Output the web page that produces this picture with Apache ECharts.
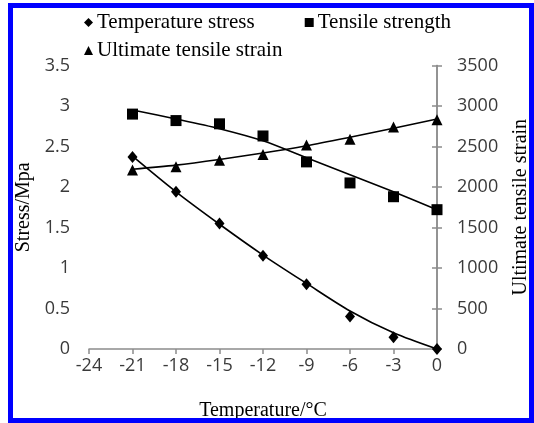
<!DOCTYPE html>
<html>
<head>
<meta charset="utf-8">
<script src="https://cdn.jsdelivr.net/npm/echarts@6/dist/echarts.min.js"></script>
<style>
  html, body { margin: 0; padding: 0; background: #fff; }
  #chart { width: 534px; height: 423px; }
</style>
</head>
<body>
<div id="chart"></div>
<script>
// temperature (degC) of each test
var temps = [-21, -18, -15, -12, -9, -6, -3, 0];

var stressVals = [2.37, 1.94, 1.55, 1.15, 0.80, 0.40, 0.145, 0];
var strengthVals = [2.90, 2.82, 2.78, 2.63, 2.31, 2.05, 1.88, 1.72];
var strainVals = [2210, 2250, 2330, 2400, 2520, 2590, 2740, 2830];

// trend curves as drawn in the figure
var stressTrend = [2.38, 1.94, 1.54, 1.16, 0.81, 0.47, 0.20, 0];
var strengthTrend = [2.95, 2.84, 2.72, 2.57, 2.36, 2.15, 1.94, 1.72];
var strainTrend = [2220, 2270, 2340, 2420, 2510, 2615, 2725, 2840];

var serifFont = '"Liberation Serif", "Times New Roman", serif';
var tickFont = '"Open Sans", "Liberation Sans", sans-serif';

var pairs = function(xs, ys){
    var out = [];
    for (var i = 0; i < xs.length; i++) {
        out.push([xs[i], ys[i]]);
    }
    return out;
};

var axisLineStyle = { lineStyle: { color: '#8c8c8c', width: 1.5 } };
var tickStyle = { show: true, inside: false, length: 5, lineStyle: { color: '#8c8c8c', width: 1.5 } };
var labelStyle = { fontFamily: tickFont, fontSize: 18, color: '#3a3a3a' };

var myChart = echarts.init(document.getElementById('chart'));

var trendLine = function(name, data, yIndex){
    return {
        name: name,
        type: 'line',
        yAxisIndex: yIndex,
        data: pairs(temps, data),
        smooth: 0.3,
        showSymbol: false,
        silent: true,
        z: 2,
        lineStyle: { color: '#000', width: 1.6 }
    };
};

var points = function(name, data, yIndex, symbol, size){
    return {
        name: name,
        type: 'scatter',
        yAxisIndex: yIndex,
        data: pairs(temps, data),
        symbol: symbol,
        symbolSize: size,
        z: 5,
        itemStyle: { color: '#000', opacity: 1 }
    };
};

var legendText = { fontFamily: serifFont, fontSize: 21, color: '#000', padding: [0, 0, 0, -1] };

var option = {
    animation: false,
    backgroundColor: '#fff',
    graphic: [{
        type: 'rect',
        shape: { x: 10.5, y: 5.5, width: 521, height: 415 },
        style: { fill: 'none', stroke: '#0000ff', lineWidth: 5 },
        z: 100
    }],
    legend: [{
        data: ['Temperature stress', 'Tensile strength'],
        left: 79,
        top: 7,
        itemGap: 50,
        itemWidth: 9,
        itemHeight: 9,
        itemStyle: { color: '#000', opacity: 1 },
        textStyle: legendText
    }, {
        data: ['Ultimate tensile strain'],
        left: 79,
        top: 35,
        itemWidth: 9,
        itemHeight: 9,
        itemStyle: { color: '#000', opacity: 1 },
        textStyle: legendText
    }],
    grid: {
        left: 89,
        right: 97,
        top: 65.5,
        bottom: 74,
        containLabel: false,
        outerBoundsMode: 'none'
    },
    xAxis: {
        type: 'value',
        min: -24,
        max: 0,
        interval: 3,
        name: 'Temperature/°C',
        nameLocation: 'middle',
        nameGap: 52,
        nameTextStyle: { fontFamily: serifFont, fontSize: 20, color: '#000' },
        axisLine: axisLineStyle,
        axisTick: tickStyle,
        axisLabel: labelStyle,
        splitLine: { show: false }
    },
    yAxis: [{
        type: 'value',
        min: 0,
        max: 3.5,
        interval: 0.5,
        name: 'Stress/Mpa',
        nameLocation: 'middle',
        nameGap: 54,
        nameTextStyle: { fontFamily: serifFont, fontSize: 20, color: '#000' },
        axisLine: { show: true, lineStyle: axisLineStyle.lineStyle },
        axisTick: tickStyle,
        axisLabel: Object.assign({ margin: 19 }, labelStyle),
        splitLine: { show: false }
    }, {
        type: 'value',
        position: 'right',
        min: 0,
        max: 3500,
        interval: 500,
        name: 'Ultimate tensile strain',
        nameLocation: 'middle',
        nameGap: 74,
        nameTextStyle: { fontFamily: serifFont, fontSize: 20, color: '#000' },
        axisLine: { show: true, lineStyle: axisLineStyle.lineStyle },
        axisTick: tickStyle,
        axisLabel: Object.assign({ margin: 20, formatter: function(v){ return String(v); } }, labelStyle),
        splitLine: { show: false }
    }],
    series: [
        trendLine('stress trend', stressTrend, 0),
        trendLine('strength trend', strengthTrend, 0),
        trendLine('strain trend', strainTrend, 1),
        points('Temperature stress', stressVals, 0, 'diamond', [10, 12]),
        points('Tensile strength', strengthVals, 0, 'rect', 11),
        points('Ultimate tensile strain', strainVals, 1, 'triangle', 11)
    ]
};

myChart.setOption(option);
</script>
</body>
</html>
